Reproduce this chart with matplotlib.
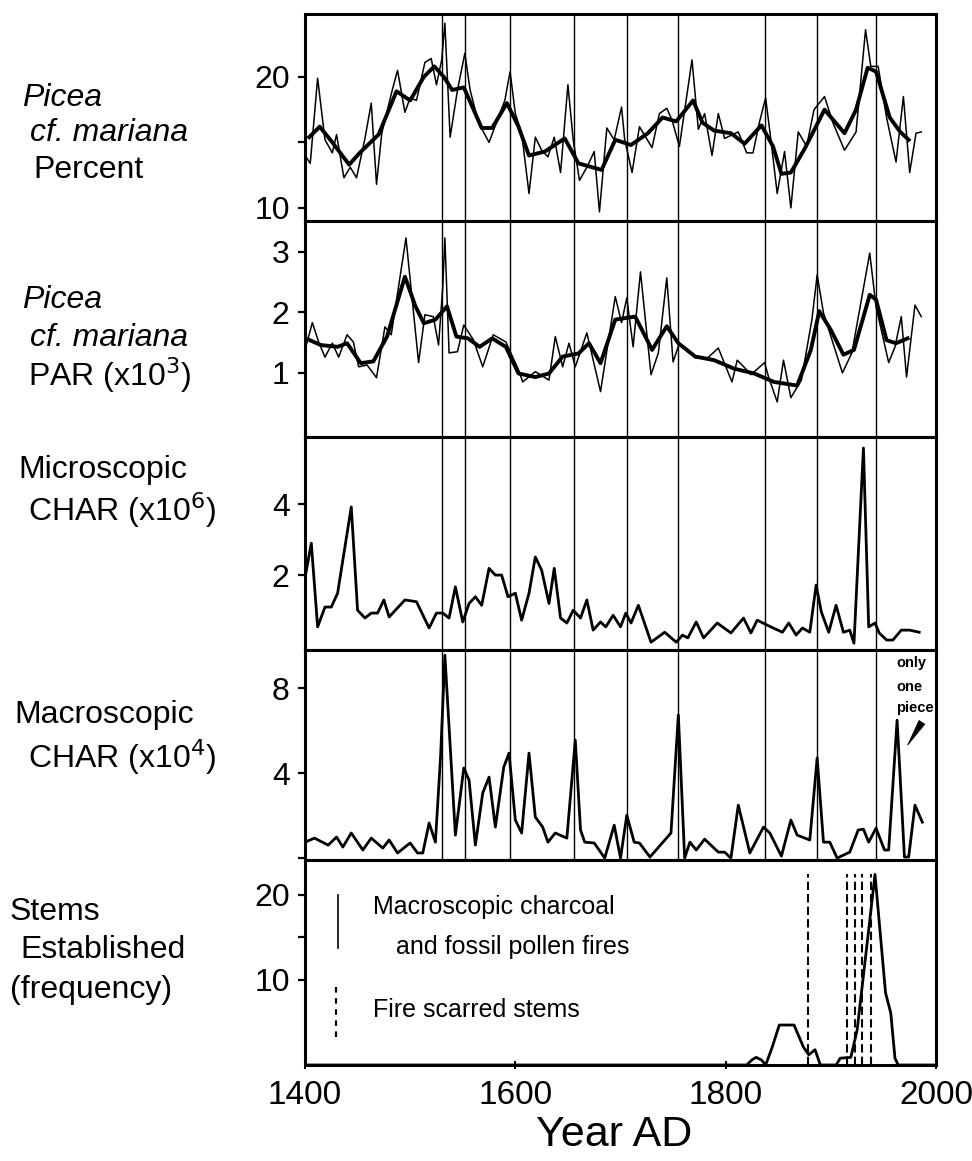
import matplotlib
matplotlib.use('Agg')
import matplotlib.pyplot as plt

# ---------------- data ----------------
pct_raw_years = [1400, 1405, 1412, 1419, 1426, 1430, 1437, 1443, 1449, 1457, 1463, 1468, 1473, 1483, 1488,
                 1495, 1500, 1506, 1514, 1520, 1525, 1530, 1533, 1538, 1545, 1552, 1557, 1565, 1575, 1582,
                 1590, 1595, 1600, 1606, 1613, 1619, 1625, 1631, 1637, 1643, 1650, 1655, 1661, 1668, 1675,
                 1680, 1687, 1694, 1701, 1704, 1711, 1718, 1730, 1737, 1744, 1749, 1756, 1768, 1774, 1780,
                 1787, 1793, 1799, 1812, 1820, 1826, 1832, 1838, 1843, 1849, 1856, 1862, 1869, 1877, 1884,
                 1894, 1902, 1913, 1924, 1933, 1938, 1945, 1953, 1962, 1969, 1975, 1981, 1986]
pct_raw = [14.0, 13.4, 19.9, 15.2, 14.2, 15.6, 12.3, 13.1, 12.3, 15.3, 18.0, 11.8, 15.7, 19.0, 20.5,
           17.3, 18.4, 18.2, 21.1, 21.4, 19.4, 21.3, 24.1, 15.4, 19.0, 21.8, 19.0, 16.5, 15.0, 16.5,
           18.2, 20.4, 17.2, 15.7, 11.1, 15.4, 14.4, 13.9, 15.4, 12.7, 19.4, 15.2, 12.1, 13.1, 14.3,
           9.7, 16.1, 15.2, 17.7, 15.2, 12.7, 16.2, 14.6, 17.2, 17.6, 16.7, 14.7, 21.3, 16.0, 17.2,
           14.0, 17.2, 15.3, 15.8, 14.2, 14.2, 16.5, 18.4, 15.2, 11.1, 14.3, 10.0, 15.8, 14.7, 17.5,
           18.5, 16.5, 14.4, 15.8, 23.6, 20.8, 20.8, 16.9, 13.5, 18.5, 12.7, 15.7, 15.8]

pct_smooth_years = [1404, 1414, 1426, 1442, 1452, 1470, 1487, 1500, 1513, 1523, 1532, 1540, 1551, 1568,
                    1578, 1592, 1603, 1613, 1628, 1647, 1660, 1682, 1695, 1710, 1726, 1740, 1753, 1769,
                    1778, 1789, 1805, 1818, 1834, 1845, 1853, 1862, 1875, 1894, 1913, 1924, 1935, 1943,
                    1956, 1966, 1974]
pct_smooth = [15.4, 16.2, 15.0, 13.3, 14.2, 15.6, 18.9, 18.2, 20.0, 20.8, 20.0, 19.0, 19.2, 16.1,
              16.1, 18.0, 16.2, 14.0, 14.3, 15.3, 13.4, 12.9, 15.2, 14.8, 15.7, 16.9, 16.6, 18.2,
              16.5, 15.9, 15.7, 14.9, 16.3, 14.7, 12.6, 12.7, 14.5, 17.5, 15.7, 17.5, 20.7, 20.4,
              16.9, 15.8, 15.2]

par_raw_years = [1400, 1407, 1413, 1419, 1426, 1432, 1440, 1446, 1451, 1459, 1468, 1476, 1482, 1496, 1508,
                 1514, 1522, 1527, 1531, 1533, 1537, 1545, 1551, 1560, 1569, 1579, 1591, 1603, 1607, 1619,
                 1632, 1638, 1645, 1651, 1657, 1668, 1681, 1695, 1701, 1706, 1712, 1719, 1729, 1736, 1744,
                 1750, 1756, 1771, 1783, 1793, 1806, 1811, 1820, 1824, 1837, 1841, 1849, 1855, 1862, 1872,
                 1882, 1887, 1893, 1911, 1920, 1937, 1943, 1955, 1961, 1967, 1972, 1980, 1986]
par_raw = [1.38, 1.83, 1.51, 1.26, 1.49, 1.26, 1.63, 1.51, 1.10, 1.13, 0.92, 1.76, 1.63, 3.23, 1.17,
           1.96, 1.93, 1.46, 2.42, 3.23, 1.33, 1.35, 1.79, 1.55, 1.10, 1.63, 1.51, 1.05, 0.85, 1.02,
           0.88, 1.60, 1.10, 1.49, 1.10, 1.66, 0.69, 2.26, 1.83, 2.24, 1.43, 2.67, 0.97, 1.33, 2.57,
           1.18, 1.49, 1.25, 1.25, 1.41, 0.85, 1.21, 1.05, 0.97, 1.17, 0.92, 0.52, 1.21, 0.59, 0.88,
           1.88, 2.62, 1.99, 1.00, 1.33, 2.98, 2.09, 1.17, 1.43, 1.93, 0.93, 2.12, 1.93]

par_smooth_years = [1402, 1415, 1431, 1440, 1453, 1465, 1478, 1495, 1505, 1513, 1524, 1535, 1544, 1555,
                    1566, 1578, 1591, 1603, 1619, 1632, 1645, 1660, 1670, 1681, 1695, 1714, 1730, 1744,
                    1755, 1771, 1789, 1808, 1827, 1846, 1868, 1881, 1889, 1900, 1912, 1922, 1937, 1943,
                    1953, 1962, 1973]
par_smooth = [1.56, 1.46, 1.43, 1.49, 1.16, 1.19, 1.60, 2.59, 2.10, 1.82, 1.88, 2.10, 1.60, 1.57,
              1.43, 1.57, 1.43, 0.99, 0.93, 0.99, 1.27, 1.32, 1.49, 1.16, 1.88, 1.93, 1.38, 1.77,
              1.49, 1.27, 1.21, 1.07, 0.99, 0.85, 0.79, 1.38, 2.02, 1.71, 1.30, 1.38, 2.29, 2.21,
              1.54, 1.49, 1.57]

micro_years = [1400, 1406, 1412, 1419, 1425, 1431, 1444, 1450, 1457, 1463, 1469, 1475, 1480, 1495, 1506,
               1518, 1525, 1531, 1537, 1543, 1550, 1556, 1562, 1568, 1575, 1581, 1587, 1593, 1600, 1606,
               1613, 1619, 1625, 1632, 1637, 1643, 1649, 1655, 1662, 1668, 1674, 1681, 1686, 1693, 1700,
               1705, 1710, 1717, 1729, 1742, 1753, 1759, 1764, 1772, 1779, 1792, 1805, 1817, 1824, 1830,
               1843, 1854, 1860, 1867, 1873, 1880, 1886, 1891, 1898, 1905, 1912, 1918, 1922, 1931, 1936,
               1942, 1946, 1953, 1959, 1967, 1975, 1984]
micro_char = [1.92, 2.90, 0.54, 1.10, 1.10, 1.49, 3.92, 1.01, 0.79, 0.93, 0.93, 1.30, 0.82, 1.30, 1.25,
              0.51, 0.93, 0.93, 0.79, 1.67, 0.68, 1.20, 1.39, 1.15, 2.19, 2.00, 2.00, 1.39, 1.49, 0.73,
              1.49, 2.51, 2.14, 1.20, 2.19, 0.79, 0.65, 1.01, 0.79, 1.30, 0.45, 0.68, 0.54, 0.87, 0.54,
              0.93, 0.65, 1.15, 0.11, 0.39, 0.11, 0.31, 0.23, 0.68, 0.23, 0.65, 0.37, 0.79, 0.37, 0.73,
              0.54, 0.39, 0.65, 0.31, 0.51, 0.39, 1.72, 0.96, 0.39, 1.15, 0.39, 0.45, 0.08, 5.58, 0.54,
              0.65, 0.37, 0.17, 0.17, 0.45, 0.45, 0.39]

macro_years = [1400, 1409, 1422, 1430, 1436, 1444, 1455, 1463, 1474, 1480, 1488, 1500, 1507, 1512, 1518,
               1524, 1529, 1533, 1543, 1551, 1556, 1562, 1569, 1575, 1581, 1589, 1594, 1600, 1606, 1613,
               1619, 1626, 1631, 1638, 1649, 1657, 1662, 1666, 1675, 1685, 1694, 1700, 1706, 1713, 1718,
               1728, 1748, 1755, 1761, 1766, 1772, 1780, 1793, 1799, 1805, 1812, 1823, 1836, 1842, 1853,
               1862, 1868, 1880, 1887, 1893, 1899, 1906, 1918, 1926, 1931, 1936, 1943, 1951, 1955, 1963,
               1970, 1974, 1980, 1987]
macro_char = [0.75, 0.94, 0.61, 0.99, 0.52, 1.18, 0.38, 0.94, 0.47, 0.85, 0.24, 0.71, 0.24, 0.24, 1.65,
              0.75, 4.85, 9.55, 1.08, 4.24, 3.67, 0.61, 3.06, 3.81, 1.46, 4.28, 4.94, 1.79, 1.18, 4.94,
              1.93, 1.46, 0.75, 1.18, 0.94, 5.55, 1.32, 0.75, 0.71, 0.0, 1.55, 0.0, 2.02, 0.75, 0.71,
              0.05, 1.18, 6.73, 0.0, 0.75, 0.38, 0.89, 0.28, 0.28, 0.0, 2.49, 0.24, 1.46, 1.18, 0.09,
              1.79, 1.08, 0.85, 4.71, 0.75, 0.75, 0.0, 0.28, 1.32, 1.36, 0.75, 1.41, 0.38, 0.38, 6.49,
              0.05, 0.05, 2.49, 1.69]

stem_years = [1400, 1820, 1825, 1829, 1834, 1838, 1844, 1851, 1865, 1874, 1879, 1885, 1890, 1905, 1909,
              1919, 1925, 1936, 1942, 1952, 1957, 1961, 1964, 2000]
stem_freq = [0, 0, 0.6, 0.9, 0.6, 0, 2.0, 4.7, 4.7, 2.1, 1.2, 1.8, 0, 0, 0.8,
             0.9, 4.1, 15.9, 22.4, 8.5, 6.1, 0.8, 0, 0]

fire_years = [1530, 1552, 1595, 1656, 1706, 1755, 1837, 1887, 1943]
scar_years = [1878, 1915, 1923, 1930, 1938]

xticks = [1400, 1600, 1800, 2000]

# ---------------- figure ----------------
FONT = ['Liberation Sans', 'DejaVu Sans']
plt.rcParams['font.family'] = FONT

W, H = 972, 1161
fig = plt.figure(figsize=(W / 100, H / 100), dpi=100)
heights = [207, 216, 213, 210, 205]
gs = fig.add_gridspec(5, 1, height_ratios=heights, hspace=0,
                      left=305 / W, right=936 / W, top=1 - 14 / H, bottom=1 - 1065 / H)
axes = [fig.add_subplot(gs[i]) for i in range(5)]

ylims = [(9.0, 24.8), (-0.06, 3.51), (-0.11, 5.89), (-0.09, 9.79), (0, 24.1)]
yticks = [[10, 15, 20], [1, 2, 3], [2, 4], [0, 4, 8], [10, 15, 20]]
ylabels = [['10', '', '20'], ['1', '2', '3'], ['2', '4'], ['', '4', '8'], ['10', '', '20']]

for i, (ax, yl, yt, ytl) in enumerate(zip(axes, ylims, yticks, ylabels)):
    ax.set_xlim(1400, 2000)
    ax.set_ylim(*yl)
    ax.set_yticks(yt)
    ax.set_yticklabels(ytl)
    for s in ax.spines.values():
        s.set_linewidth(2.2)
    ax.tick_params(axis='y', direction='out', length=5, width=1.6, pad=6, labelsize=23)
    ax.set_xticks(xticks)
    if i < 4:
        ax.tick_params(axis='x', length=0)
        ax.set_xticklabels([])

# panel 1
ax = axes[0]
ax.plot(pct_raw_years, pct_raw, color='black', lw=1.1)
ax.plot(pct_smooth_years, pct_smooth, color='black', lw=2.8)
# panel 2
ax = axes[1]
ax.plot(par_raw_years, par_raw, color='black', lw=1.1)
ax.plot(par_smooth_years, par_smooth, color='black', lw=2.8)
# panel 3
axes[2].plot(micro_years, micro_char, color='black', lw=2.0)
# panel 4
axes[3].plot(macro_years, macro_char, color='black', lw=2.0)
# panel 5
axes[4].plot(stem_years, stem_freq, color='black', lw=2.0)

for ax in axes[:4]:
    for fy in fire_years:
        ax.axvline(fy, color='black', lw=1.0)
for sy in scar_years:
    axes[4].axvline(sy, ymin=0, ymax=0.93, color='black', lw=1.5, ls=(0, (4, 2)))

# annotation "only one piece"
ax = axes[3]
for txt, yv in zip(['only', 'one', 'piece'], [9.18, 8.05, 7.06]):
    ax.text(1962, yv, txt, fontsize=10.5, ha='left', va='center', fontweight='bold')
ax.annotate('', xy=(1971.6, 5.2), xytext=(1988, 6.5),
            arrowprops=dict(arrowstyle='wedge,tail_width=0.5,shrink_factor=0.5', color='black', lw=0.5))

# legend inside panel 5
ax = axes[4]
ax.plot([0.052, 0.052], [0.57, 0.83], transform=ax.transAxes, color='black', lw=1.2)
ax.plot([0.049, 0.049], [0.137, 0.405], transform=ax.transAxes, color='black', lw=1.6, ls=(0, (2.5, 2.5)))
ax.text(0.107, 0.77, 'Macroscopic charcoal', transform=ax.transAxes, fontsize=18, va='center', ha='left')
ax.text(0.145, 0.576, 'and fossil pollen fires', transform=ax.transAxes, fontsize=18, va='center', ha='left')
ax.text(0.107, 0.268, 'Fire scarred stems', transform=ax.transAxes, fontsize=18, va='center', ha='left')

# x axis labels on bottom panel
ax.set_xticklabels([str(v) for v in xticks], fontsize=24)
ax.tick_params(axis='x', direction='inout', length=6, width=1.4, pad=8)
fig.text(614 / W, 1 - 1135 / H, 'Year AD', fontsize=31, ha='center', va='center')

# left labels
LS = 23
def lab(x, y, s, italic=False):
    fig.text(x / W, 1 - y / H, s, fontsize=LS, ha='left', va='center',
             style='italic' if italic else 'normal')

lab(22, 98, 'Picea', True)
lab(30, 133, 'cf. mariana', True)
lab(33, 170, 'Percent')
lab(22, 300, 'Picea', True)
lab(30, 338, 'cf. mariana', True)
lab(28, 375, 'PAR (x10$^3$)')
lab(18, 470, 'Microscopic')
lab(28, 510, 'CHAR (x10$^6$)')
lab(14, 715, 'Macroscopic')
lab(28, 757, 'CHAR (x10$^4$)')
lab(10, 912, 'Stems')
lab(20, 950, 'Established')
lab(10, 990, '(frequency)')

fig.savefig('out.png', dpi=100)
